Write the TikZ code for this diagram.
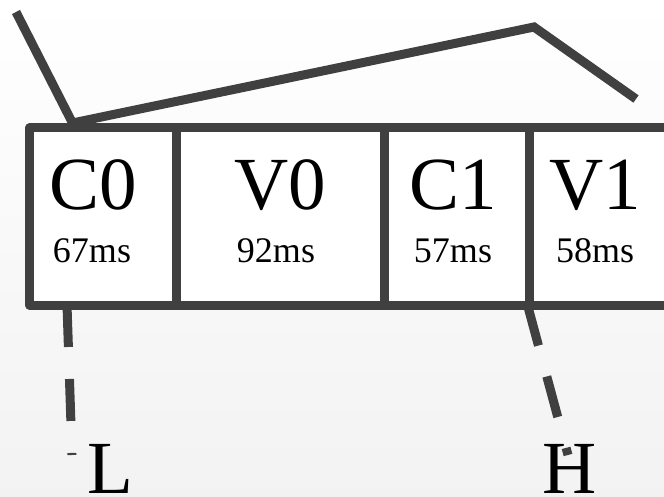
\documentclass[tikz,border=0pt]{standalone}
\usepackage{fontspec}
\setmainfont{Liberation Serif}
\definecolor{ink}{HTML}{404040}
\tikzset{
  cell/.style={draw=ink, line width=9pt, line join=round, rectangle, inner sep=0pt, fill=white},
  big/.style={anchor=base, inner sep=0pt, font=\fontsize{75}{75}\selectfont},
  small/.style={anchor=base, inner sep=0pt, font=\fontsize{36}{36}\selectfont},
  tie/.style={draw=ink, line width=9pt},
  dashtie/.style={draw=ink, line width=9pt, dash pattern=on 42pt off 32pt}
}
\begin{document}
\begin{tikzpicture}[x=1pt, y=-1pt]
\useasboundingbox (0,0) rectangle (664,497);
\clip (0,0) rectangle (664,497);
\shade[top color=white, bottom color=black!5] (0,0) rectangle (664,497);
% cells
\node[cell, minimum width=146.5pt, minimum height=177pt] (c0) at (102.75,216.5) {};
\node[cell, minimum width=208pt, minimum height=177pt] (v0) at (280,216.5) {};
\node[cell, minimum width=145pt, minimum height=177pt] (c1) at (456.5,216.5) {};
\node[cell, minimum width=171pt, minimum height=177pt] (v1) at (614.5,216.5) {};
% texts
\node[big] (c0n) at (93,210) {C0};
\node[small] (c0t) at (92,262) {67ms};
\node[big] (v0n) at (280,210) {V0};
\node[small] (v0t) at (276,262) {92ms};
\node[big] (c1n) at (453,210) {C1};
\node[small] (c1t) at (453,262) {57ms};
\node[big] (v1n) at (595,210) {V1};
\node[small] (v1t) at (595,262) {58ms};
% labels
\node[big] (L) at (110,493) {L};
\node[big] (H) at (570,493) {H};
% top lines
\coordinate (t0) at (16,12);
\coordinate (knee) at (72.5,123);
\coordinate (peak) at (534,27);
\coordinate (t3) at (636,99);
\draw[tie] (t0) -- (knee) -- (peak) -- (t3);
% bottom dashed lines
\coordinate (lb) at (67,305);
\coordinate (le) at (72,455);
\coordinate (hb) at (527.5,305);
\coordinate (he) at (568,455);
\draw[dashtie] (lb) -- (le);
\draw[dashtie] (hb) -- (he);
\end{tikzpicture}
\end{document}
